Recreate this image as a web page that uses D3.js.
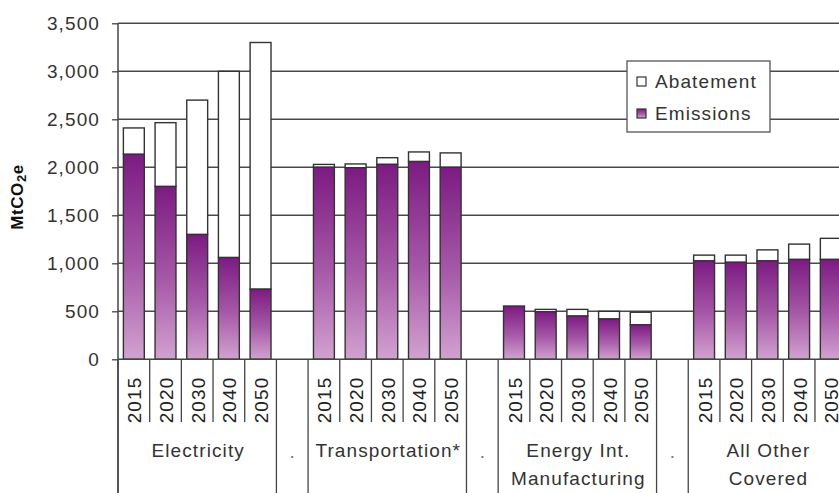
<!DOCTYPE html>
<html><head><meta charset="utf-8">
<script src="https://cdn.jsdelivr.net/npm/d3@7"></script>
<style>
html,body{margin:0;padding:0;background:#fff;overflow:hidden}
svg{display:block;font-family:"Liberation Sans",Arial,sans-serif}
</style></head>
<body>
<svg id="chart" width="839" height="493"></svg>
<script>
const groups = [["Electricity"], ["Transportation*"], ["Energy Int.", "Manufacturing"], ["All Other", "Covered"]];
const separatorLabel = ".";
const years = ["2015", "2020", "2030", "2040", "2050"];
const emissions = [
  [2135, 1800, 1300, 1060, 730],
  [2000, 1995, 2030, 2060, 2000],
  [555, 495, 450, 420, 360],
  [1025, 1010, 1025, 1040, 1040]
];
const abatement = [
  [275, 665, 1400, 1940, 2570],
  [30, 40, 70, 100, 150],
  [0, 25, 70, 80, 130],
  [60, 75, 115, 160, 220]
];
const yTicks = [0, 500, 1000, 1500, 2000, 2500, 3000, 3500];
const seriesNames = ["Abatement", "Emissions"];

(function () {
const svg = d3.select("#chart");
const left = 118, slotW = 31.68, plotTop = 23.3, base = 359.3;

const slots = [];
groups.forEach((g, gi) => {
  years.forEach((yr, yi) => slots.push({key: gi + "-" + yr, gi, yi, year: yr}));
  if (gi < groups.length - 1) slots.push({key: "sep" + gi, sep: true});
});
const x = d3.scaleBand().domain(slots.map(d => d.key)).range([left, left + slots.length * slotW]).padding(0);
const y = d3.scaleLinear().domain([0, 3500]).range([base, plotTop]);

const defs = svg.append("defs");
const grad = defs.append("linearGradient").attr("id", "emg").attr("x1", 0).attr("y1", 0).attr("x2", 0).attr("y2", 1);
grad.append("stop").attr("offset", "0%").attr("stop-color", "#7c1b82");
grad.append("stop").attr("offset", "55%").attr("stop-color", "#a75aa8");
grad.append("stop").attr("offset", "100%").attr("stop-color", "#d2a2d0");

const txt = "#333";
svg.append("g").selectAll("line").data(yTicks.filter(t => t > 0)).join("line")
  .attr("x1", left).attr("x2", 900).attr("y1", d => y(d)).attr("y2", d => y(d))
  .attr("stroke", "#4a4a4a").attr("stroke-width", 1.4);

const yAxis = svg.append("g").attr("transform", `translate(${left},0)`)
  .call(d3.axisLeft(y).tickValues(yTicks).tickSize(6).tickPadding(12).tickFormat(d3.format(",")));
yAxis.select(".domain").remove();
yAxis.selectAll(".tick line").attr("stroke", "#444").attr("stroke-width", 1.3);
yAxis.selectAll(".tick text").attr("fill", txt).style("font-size", "19px").style("letter-spacing", "1.1px")
  .style("font-family", "'Liberation Sans',Arial,sans-serif");
svg.append("line").attr("x1", left).attr("x2", left).attr("y1", plotTop).attr("y2", 493)
  .attr("stroke", "#444").attr("stroke-width", 1.5);

const yt = svg.append("text").attr("transform", "translate(23,197) rotate(-90)")
  .attr("text-anchor", "middle").attr("font-weight", "bold").attr("font-size", 17)
  .style("letter-spacing", "0.6px").attr("fill", "#111");
yt.append("tspan").text("MtCO");
yt.append("tspan").text("2").attr("font-size", 13).attr("dy", 3);
yt.append("tspan").text("e").attr("dy", -3);

const bw = x.bandwidth() * 0.66;
const barData = slots.filter(s => !s.sep).map(s => ({
  ...s, em: emissions[s.gi][s.yi], ab: abatement[s.gi][s.yi]
}));
const bars = svg.append("g");
bars.selectAll("rect.ab").data(barData).join("rect").attr("class", "ab")
  .attr("x", d => x(d.key) + (x.bandwidth() - bw) / 2).attr("width", bw)
  .attr("y", d => y(d.em + d.ab)).attr("height", d => y(d.em) - y(d.em + d.ab))
  .attr("fill", "#fff").attr("stroke", "#333").attr("stroke-width", 1.4);
bars.selectAll("rect.em").data(barData).join("rect").attr("class", "em")
  .attr("x", d => x(d.key) + (x.bandwidth() - bw) / 2).attr("width", bw)
  .attr("y", d => y(d.em)).attr("height", d => base - y(d.em))
  .attr("fill", "url(#emg)").attr("stroke", "#333").attr("stroke-width", 1.4);

svg.append("line").attr("x1", left).attr("x2", 900).attr("y1", base).attr("y2", base)
  .attr("stroke", "#444").attr("stroke-width", 1.5);

const bounds = d3.range(slots.length + 1);
const isGroupEdge = i => i === 0 || i === slots.length || (slots[i] && slots[i].sep) || (slots[i - 1] && slots[i - 1].sep);
svg.append("g").selectAll("line").data(bounds).join("line")
  .attr("x1", i => left + i * x.step()).attr("x2", i => left + i * x.step())
  .attr("y1", base).attr("y2", i => isGroupEdge(i) ? 493 : 422)
  .attr("stroke", "#444").attr("stroke-width", 1.3);

svg.append("g").selectAll("text").data(barData).join("text")
  .attr("transform", d => `translate(${x(d.key) + x.bandwidth() / 2 + 1},400) rotate(-90)`)
  .attr("text-anchor", "middle").attr("dominant-baseline", "central")
  .attr("font-size", 19).style("letter-spacing", "1.1px").attr("fill", "#222").text(d => d.year);

groups.forEach((g, gi) => {
  const first = x(gi + "-" + years[0]), last = x(gi + "-" + years[years.length - 1]) + x.bandwidth();
  const t = svg.append("text").attr("text-anchor", "middle").attr("font-size", 19)
    .style("letter-spacing", "1.1px").attr("fill", txt);
  g.forEach((line, li) => t.append("tspan").attr("x", (first + last) / 2 + 1).attr("y", 457 + li * 28).text(line));
});
svg.append("g").selectAll("text").data(slots.filter(s => s.sep)).join("text")
  .attr("x", d => x(d.key) + x.bandwidth() / 2).attr("y", 458).attr("text-anchor", "middle")
  .attr("font-size", 19).attr("fill", "#777").text(separatorLabel);

const lg = svg.append("g");
lg.append("rect").attr("x", 627).attr("y", 61).attr("width", 143).attr("height", 71)
  .attr("fill", "#fff").attr("stroke", "#555").attr("stroke-width", 1.3);
seriesNames.forEach((n, i) => {
  const cy = 81 + i * 32;
  lg.append("rect").attr("x", 637).attr("y", cy - 4).attr("width", 9).attr("height", 9)
    .attr("fill", i === 0 ? "#fff" : "url(#emg)").attr("stroke", "#333").attr("stroke-width", 1.2);
  lg.append("text").attr("x", 655).attr("y", cy + 7).attr("font-size", 19)
    .style("letter-spacing", "1.1px").attr("fill", txt).text(n);
});
})();
</script>
</body></html>
